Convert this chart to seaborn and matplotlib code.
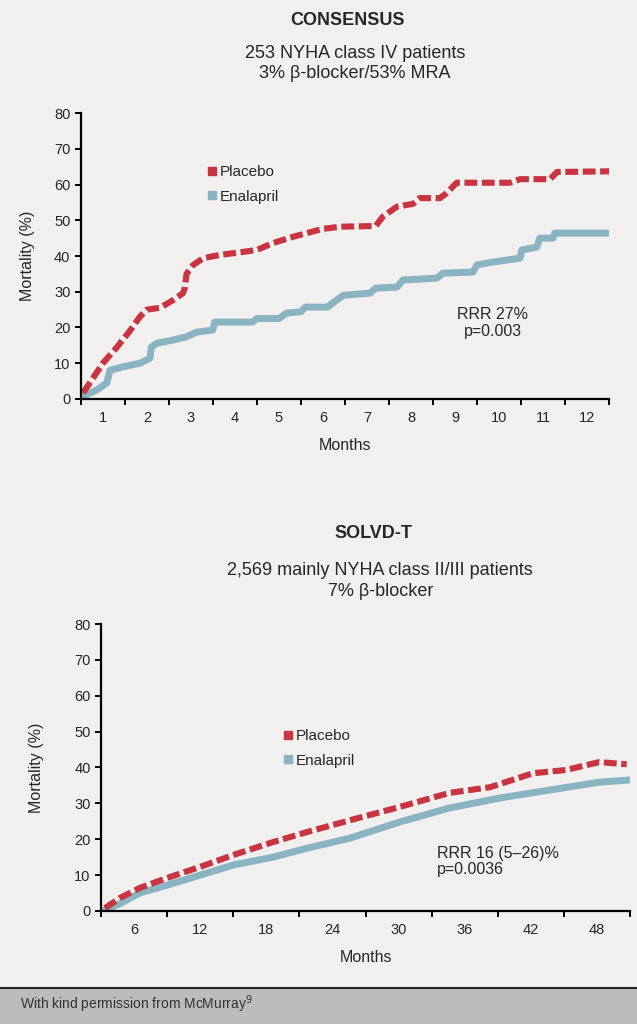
import numpy as np
import pandas as pd
import seaborn as sns
from matplotlib import pyplot as plt
from matplotlib.lines import Line2D
from matplotlib.patches import Rectangle

# CONSENSUS curves (months, mortality %)
cons_placebo_m = [0.55, 1.0, 1.32, 1.61, 1.84, 2.0, 2.3, 2.6, 2.82, 2.86, 2.9, 3.05, 3.28, 3.66, 4.1,
                  4.5, 4.86, 5.3, 5.6, 6.0, 6.4, 7.2, 7.36, 7.68, 8.05, 8.2, 8.66, 8.8, 9.04, 10.25,
                  10.48, 11.16, 11.32, 12.52]
cons_placebo_v = [1.7, 10, 14.5, 19, 23, 25, 25.5, 27.7, 29.6, 31, 35, 37.5, 39.4, 40.3, 41,
                  41.7, 43.6, 45.3, 46.3, 47.6, 48.2, 48.4, 51, 53.8, 54.6, 56.2, 56.2, 57.5, 60.5, 60.5,
                  61.5, 61.5, 63.5, 63.7]
cons_enal_m = [0.55, 0.86, 1.09, 1.16, 1.46, 1.84, 2.07, 2.1, 2.23, 2.6, 2.9, 3.13, 3.5, 3.54, 4.4,
               4.5, 5.0, 5.17, 5.5, 5.6, 6.1, 6.46, 7.07, 7.2, 7.68, 7.82, 8.59, 8.73, 9.41, 9.5,
               9.86, 10.48, 10.52, 10.86, 10.93, 11.23, 11.27, 12.52]
cons_enal_v = [0.8, 2.5, 4.5, 8, 9, 10, 11.4, 14.5, 15.6, 16.5, 17.4, 18.7, 19.3, 21.5, 21.5,
               22.5, 22.5, 24, 24.4, 25.7, 25.7, 29, 29.6, 31, 31.3, 33.3, 33.8, 35.2, 35.5, 37.5,
               38.3, 39.4, 41.7, 42.5, 45, 45, 46.4, 46.4]

# SOLVD-T curves
solvd_placebo_m = [3.36, 4.7, 6.5, 9, 12, 15, 18.6, 21.7, 25.6, 30.1, 34.6, 38.3, 42.2, 45.2, 48.2, 50.7]
solvd_placebo_v = [0.8, 3.6, 6.4, 9.2, 12.3, 15.6, 19.2, 22, 25.3, 29, 32.9, 34.5, 38.4, 39.3, 41.5, 40.9]
solvd_enal_m = [3.36, 4.7, 6.5, 9, 12, 15, 18.6, 21.7, 25.6, 30.1, 34.6, 39.2, 43.7, 48.2, 50.9]
solvd_enal_v = [0.3, 2, 5, 7.2, 10, 12.8, 15, 17.5, 20.3, 24.8, 28.7, 31.5, 33.7, 35.9, 36.5]

cons_ticklabels = list(range(1, 13))
solvd_ticklabels = list(range(6, 49, 6))
y_ticks = list(range(0, 81, 10))

RED = '#c8343f'
BLUE = '#89b4c1'
BG = '#f1f0ee'

sns.set_style('ticks')
plt.rcParams['font.family'] = ['Liberation Sans', 'DejaVu Sans']
NARROW = ['Liberation Sans Narrow', 'Liberation Sans', 'DejaVu Sans']

fig = plt.figure(figsize=(6.37, 10.24), dpi=100, facecolor=BG)


def style_axes(ax):
    ax.set_facecolor(BG)
    sns.despine(ax=ax)
    for s in ['left', 'bottom']:
        ax.spines[s].set_linewidth(1.6)
        ax.spines[s].set_color('black')
    ax.tick_params(axis='both', which='both', direction='out', width=1.4, color='black',
                   labelsize=10.5, length=4)
    ax.tick_params(axis='x', which='major', length=0, pad=9)
    ax.set_yticks(y_ticks)
    ax.set_ylim(0, 80)


def draw(ax, pm, pv, em, ev):
    pl = pd.DataFrame({'month': pm, 'mortality': pv})
    en = pd.DataFrame({'month': em, 'mortality': ev})
    sns.lineplot(data=en, x='month', y='mortality', ax=ax, color=BLUE, linewidth=5.0,
                 solid_capstyle='round', solid_joinstyle='round', estimator=None, sort=False)
    sns.lineplot(data=pl, x='month', y='mortality', ax=ax, color=RED, linewidth=4.4,
                 estimator=None, sort=False, dashes=False)
    ax.lines[-1].set_dashes((2.1, 0.75))


# --- CONSENSUS ---
ax1 = fig.add_axes([0.127, 0.6104, 0.829, 0.2792])
style_axes(ax1)
draw(ax1, cons_placebo_m, cons_placebo_v, cons_enal_m, cons_enal_v)
ax1.set_xlim(0.5, 12.5)
ax1.set_xticks(cons_ticklabels)
ax1.set_xticks(np.arange(0.5, 13, 1), minor=True)
ax1.set_xticklabels(cons_ticklabels)
ax1.set_xlabel('Months', fontsize=11.5, labelpad=9)
ax1.set_ylabel('Mortality (%)', fontsize=11.5, labelpad=14)
ax1.text(0.5 + (493 - 81) / 44, (399 - 323) / 3.575, 'RRR 27%\np=0.003', ha='center', va='center',
         fontsize=11.5, linespacing=1.1)

# --- SOLVD-T ---
ax2 = fig.add_axes([0.1586, 0.1104, 0.8304, 0.2802])
style_axes(ax2)
draw(ax2, solvd_placebo_m, solvd_placebo_v, solvd_enal_m, solvd_enal_v)
ax2.set_xlim(3, 51)
ax2.set_xticks(solvd_ticklabels)
ax2.set_xticks(np.arange(3, 52, 6), minor=True)
ax2.set_xticklabels(solvd_ticklabels)
ax2.set_xlabel('Months', fontsize=11.5, labelpad=9)
ax2.set_ylabel('Mortality (%)', fontsize=11.5, labelpad=22)
ax2.text(33.5, 13.7, 'RRR 16 (5–26)%\np=0.0036', ha='left', va='center', fontsize=11.5,
         linespacing=1.1)

for ax, anchor in [(ax1, (0.225, 0.84)), (ax2, (0.33, 0.655))]:
    handles = [Line2D([], [], marker='s', color=RED, linestyle='none', markersize=6),
               Line2D([], [], marker='s', color=BLUE, linestyle='none', markersize=6)]
    ax.legend(handles, ['Placebo', 'Enalapril'], loc='upper left', bbox_to_anchor=anchor,
              frameon=False, fontsize=11, handletextpad=0.1, labelspacing=0.7,
              handlelength=0.8, borderaxespad=0)

# titles
fig.text(0.545, 0.980, 'CONSENSUS', ha='center', va='center', fontsize=13, fontweight='bold',
         family=NARROW)
fig.text(0.557, 0.938, '253 NYHA class IV patients\n3% β-blocker/53% MRA', ha='center',
         va='center', fontsize=13, family=NARROW, linespacing=1.3)
fig.text(0.587, 0.479, 'SOLVD-T', ha='center', va='center', fontsize=13, fontweight='bold',
         family=NARROW)
fig.text(0.597, 0.4325, '2,569 mainly NYHA class II/III patients\n7% β-blocker', ha='center',
         va='center', fontsize=13, family=NARROW, linespacing=1.3)

# footer band
fig.patches.append(Rectangle((0, 0), 1, 0.035, transform=fig.transFigure, facecolor='#bdbcba',
                             edgecolor='none', zorder=0))
fig.lines.append(Line2D([0, 1], [0.035, 0.035], transform=fig.transFigure, color='#222222',
                        linewidth=1.5))
fig.text(0.031, 0.0195, 'With kind permission from McMurray$^9$', ha='left', va='center',
         fontsize=10, family=NARROW, color='#333333')

fig.savefig('out.png', dpi=100, facecolor=BG)
